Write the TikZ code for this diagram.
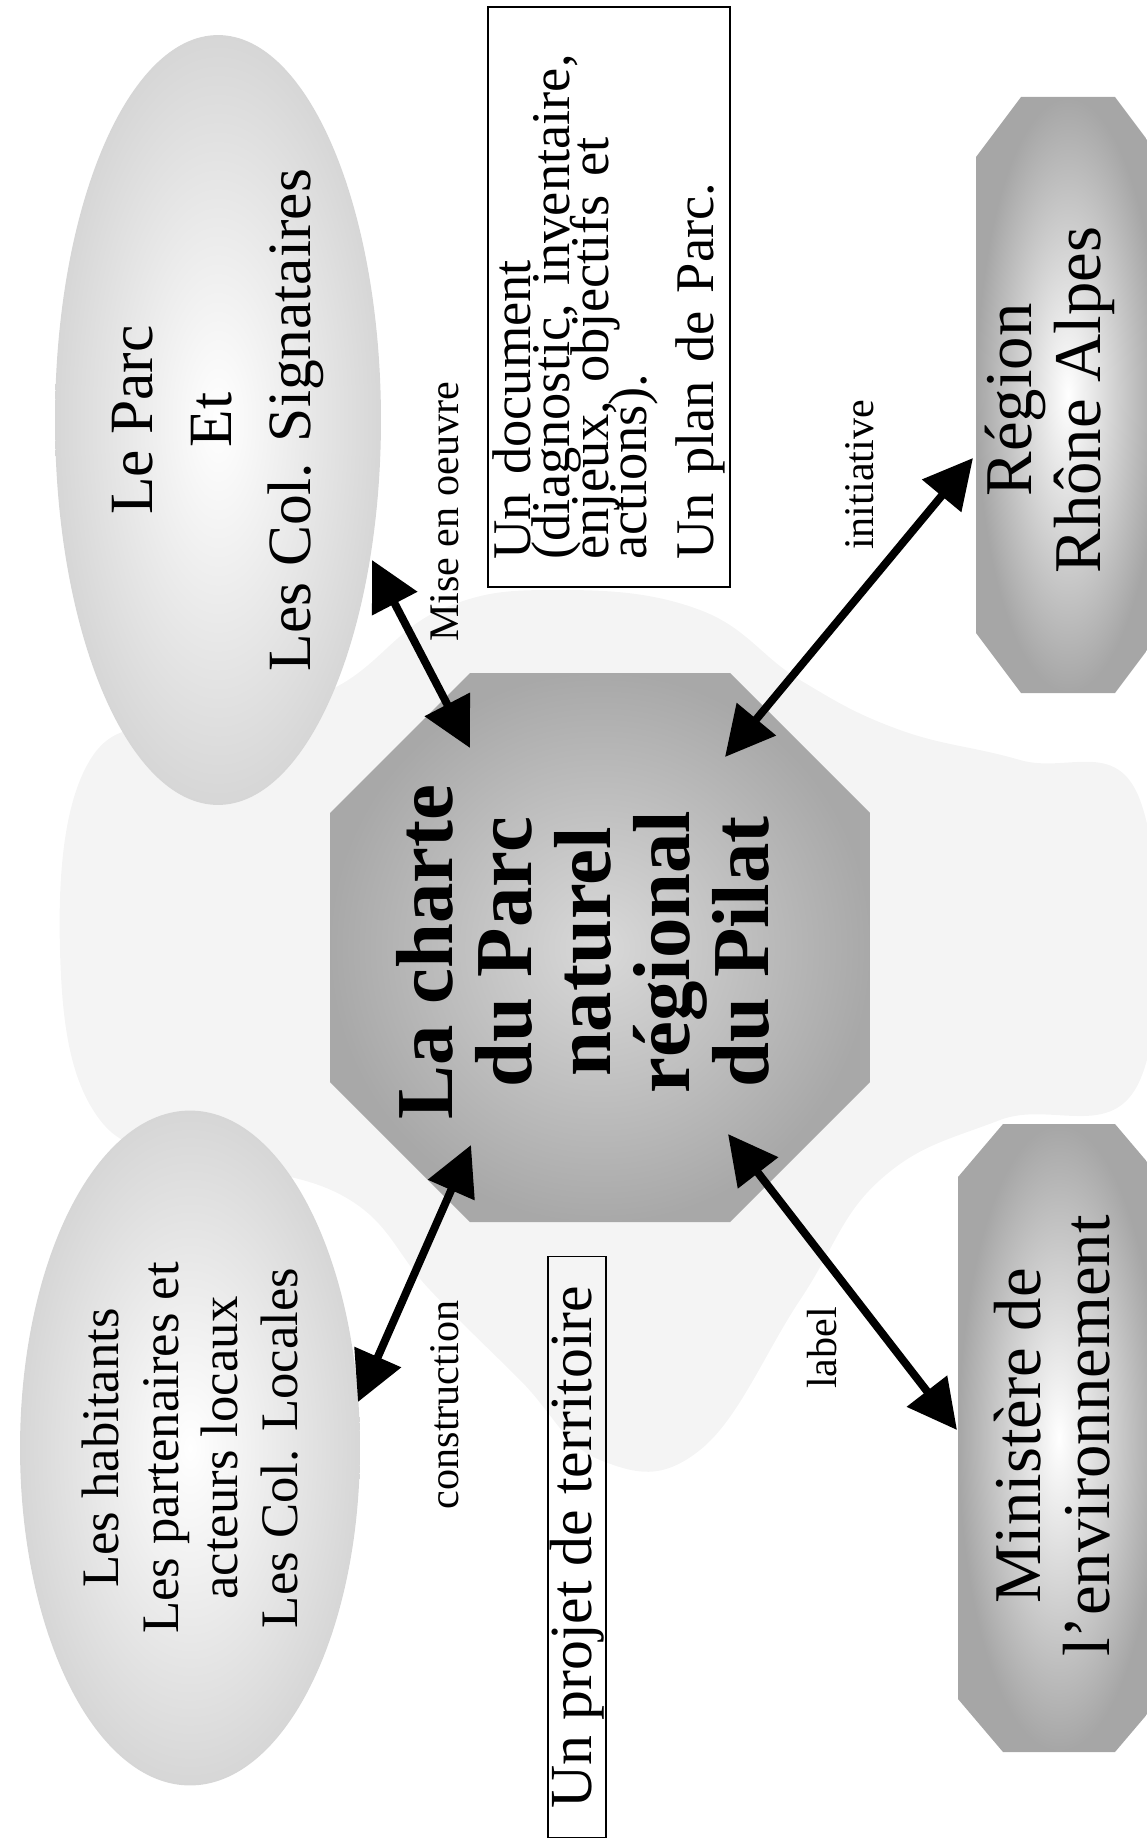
\documentclass[tikz,border=0pt]{standalone}
\usepackage{fontspec}
\setmainfont{Liberation Serif}
\usetikzlibrary{arrows.meta, positioning, shapes.geometric, calc}

\begin{document}
\begin{tikzpicture}[x=0.02cm, y=-0.02cm,
        txt/.style={rotate=90, align=center, inner sep=0pt},
        blob/.style={ellipse, rotate=90, align=center, inner sep=0pt, inner color=white, outer color=gray!32},
        octo/.style={inner color=white, outer color=gray!70},
        frame/.style={draw, rotate=90, line width=0.9pt},
        lbl/.style={rotate=90, inner sep=0pt, font=\fontsize{24}{26}\selectfont},
        dbl/.style={{Triangle[length=28pt, width=28pt]}-{Triangle[length=28pt, width=28pt]}, line width=4.5pt}]

        \useasboundingbox (0,0) rectangle (1146,1842);

        % faded background
        \fill[gray!9] plot[smooth cycle, tension=0.7] coordinates {(90,760) (200,720) (330,690) (440,610) (560,590) (700,610) (800,680) (900,730) (1020,760) (1140,800) (1140,1080) (1000,1120) (880,1180) (800,1300) (700,1450) (600,1460) (520,1380) (430,1290) (350,1200) (220,1160) (100,1120) (60,950)};

        % Partners
        \node[blob, minimum width=15.4cm, minimum height=6.52cm, font=\fontsize{35}{45}\selectfont] (parc) at (218,420) {Le Parc\\Et\\Les Col. Signataires};
        \node[blob, minimum width=13.5cm, minimum height=6.8cm, font=\fontsize{30}{34}\selectfont] (habit) at (190,1448) {Les habitants\\Les partenaires et\\acteurs locaux\\Les Col. Locales};

        % Centre
        \shade[inner color=gray!30, outer color=gray!68] (330,813) -- (470,673) -- (730,673) -- (870,813) -- (870,1082) -- (730,1222) -- (470,1222) -- (330,1082) -- cycle;
        \node[txt, font=\bfseries\fontsize{46}{45}\selectfont] (charte) at (583,952) {La charte\\du Parc\\naturel\\régional\\du Pilat};

        % Region
        \shade[octo] (976,157) -- (1021,97) -- (1115,97) -- (1160,157) -- (1160,633) -- (1115,693) -- (1021,693) -- (976,633) -- cycle;
        \node[txt, font=\fontsize{38}{39}\selectfont] (region) at (1050,400) {Région\\Rhône Alpes};

        % Ministry
        \shade[octo] (958,1177) -- (1003,1124) -- (1115,1124) -- (1160,1177) -- (1160,1699) -- (1115,1752) -- (1003,1752) -- (958,1699) -- cycle;
        \node[txt, font=\fontsize{38}{39}\selectfont] (minist) at (1052,1436) {Ministère de\\l’environnement};

        % Boxes
        \node[frame, minimum width=11.6cm, minimum height=4.84cm, text width=10.5cm, align=left, inner sep=0pt, font=\fontsize{31}{22}\selectfont] (doc) at (609,297) {\setlength{\lineskiplimit}{-50pt}Un document\\(diagnostic, inventaire,\\enjeux, objectifs et\\actions).\\[16pt]Un plan de Parc.\par};
        \node[frame, minimum width=11.62cm, inner sep=1pt, font=\fontsize{34}{36}\selectfont] (projet) at (577,1547) {Un projet de territoire};

        % Arrow ends
        \coordinate (mo-a) at (372,560);
        \coordinate (mo-b) at (470,748);
        \coordinate (co-a) at (358,1402);
        \coordinate (co-b) at (471,1145);
        \coordinate (in-a) at (973,458);
        \coordinate (in-b) at (725,757);
        \coordinate (la-a) at (728,1134);
        \coordinate (la-b) at (957,1430);

        % Arrows
        \draw[dbl] (mo-a) -- (mo-b);
        \draw[dbl] (co-a) -- (co-b);
        \draw[dbl] (in-a) -- (in-b);
        \draw[dbl] (la-a) -- (la-b);

        % Labels
        \node[lbl] (mise) at (445,512) {Mise en oeuvre};
        \node[lbl] (constr) at (445,1405) {construction};
        \node[lbl] (init) at (860,475) {initiative};
        \node[lbl] (labl) at (822,1348) {label};

    \end{tikzpicture}
\end{document}
